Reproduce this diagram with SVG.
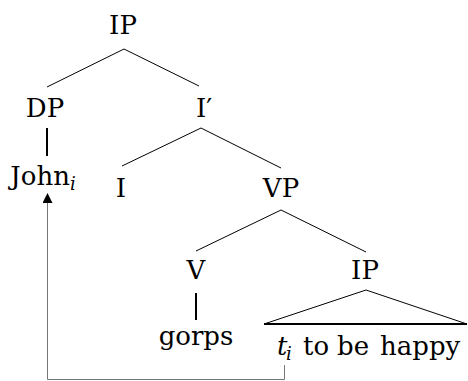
<svg xmlns="http://www.w3.org/2000/svg" width="468" height="381" viewBox="0 0 468 381">
<style>
text{font-family:'DejaVu Serif','Times New Roman',Times,serif;font-size:26px;fill:#000}
.t{text-anchor:middle}
.s{font-size:18px;font-style:italic}
.e{stroke:#000;stroke-width:1;fill:none}
.v{stroke:#000;stroke-width:2;fill:none}
.m{stroke:#777;stroke-width:1;fill:none}
</style>
<defs>
<marker id="ah" viewBox="0 0 10 10" refX="9" refY="5" markerWidth="10" markerHeight="10" markerUnits="userSpaceOnUse" orient="auto">
<path d="M0,0 L10,5 L0,10 Z" fill="#000"/>
</marker>
</defs>
<rect width="468" height="381" fill="#fff"/>
<g id="connectors">
<line class="e" x1="124" y1="49" x2="47" y2="87"/>
<line class="e" x1="124" y1="49" x2="199" y2="86"/>
<line class="v" x1="47" y1="128" x2="47" y2="156"/>
<line class="e" x1="201" y1="128" x2="122" y2="166"/>
<line class="e" x1="201" y1="128" x2="281" y2="168"/>
<line class="e" x1="281" y1="210" x2="196" y2="251"/>
<line class="e" x1="281" y1="210" x2="366" y2="252"/>
<line class="v" x1="196" y1="293" x2="196" y2="320"/>
<polyline class="e" points="264,324 366,290 467,324"/>
<line class="v" x1="264" y1="324" x2="467" y2="324"/>
<path class="m" d="M284.5,365 V379.5 H47.5 V194" marker-end="url(#ah)"/>
</g>
<g id="n-ip-top"><text class="t" x="123" y="34">IP</text></g>
<g id="n-dp"><text class="t" x="45" y="117">DP</text></g>
<g id="n-ibar"><text class="t" x="204" y="117">I′</text></g>
<g id="n-john"><text class="t" x="43" y="185">John<tspan class="s" dy="5">i</tspan></text></g>
<g id="n-i"><text class="t" x="121" y="197">I</text></g>
<g id="n-vp"><text class="t" x="281" y="197">VP</text></g>
<g id="n-v"><text class="t" x="196" y="279">V</text></g>
<g id="n-ip-low"><text class="t" x="365" y="279">IP</text></g>
<g id="n-gorps"><text class="t" x="196" y="345">gorps</text></g>
<g id="n-trace"><text y="355"><tspan x="277" font-style="italic">t</tspan><tspan class="s" x="286" dy="5">i</tspan><tspan x="303" dy="-5">to</tspan><tspan x="337">be</tspan><tspan x="380">happy</tspan></text></g>
</svg>
